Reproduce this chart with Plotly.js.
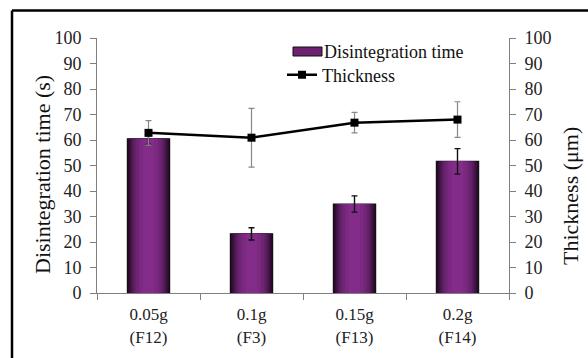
<!DOCTYPE html>
<html>
<head>
<meta charset="utf-8">
<script src="https://cdn.plot.ly/plotly-3.0.1.min.js"></script>
<style>html,body{margin:0;padding:0;background:#fff;}#chart{width:588px;height:358px;}</style>
</head>
<body>
<div id="chart"></div>
<script>
const categories = ['0.05g<br>(F12)', '0.1g<br>(F3)', '0.15g<br>(F13)', '0.2g<br>(F14)'];
const disintegrationTime = [60.5, 23.2, 34.9, 51.6];
const disintegrationErr = [2.2, 2.4, 3.2, 5.0];
const thickness = [62.8, 60.9, 66.8, 68.0];
const thicknessErr = [4.8, 11.5, 4.0, 7.0];
const yTicks = [0, 10, 20, 30, 40, 50, 60, 70, 80, 90, 100];

const font = 'Liberation Serif';
const layers = [
  {w: 0.41, c: '#2a0a2b'},
  {w: 0.37, c: '#3d1240'},
  {w: 0.33, c: '#511a54'},
  {w: 0.29, c: '#632168'},
  {w: 0.24, c: '#712577'},
  {w: 0.18, c: '#7c2982'},
  {w: 0.11, c: '#842c89'}
];
const traces = [];
layers.forEach((L, i) => {
  const last = i === layers.length - 1;
  traces.push({
    type: 'bar', x: categories, y: disintegrationTime, width: L.w,
    name: 'Disintegration time', showlegend: false,
    marker: {color: L.c, line: {color: i === 0 ? '#111' : L.c, width: i === 0 ? 1.2 : 0}},
    error_y: last ? {type: 'data', array: disintegrationErr, visible: true, color: '#111', thickness: 1.4, width: 3} : {visible: false},
    hoverinfo: 'skip'
  });
});
traces.push({
  type: 'scatter', mode: 'lines+markers', x: categories, y: thickness, yaxis: 'y2',
  name: 'Thickness',
  line: {color: '#000', width: 2.5},
  marker: {symbol: 'square', size: 8, color: '#000'},
  error_y: {type: 'data', array: thicknessErr, visible: true, color: '#888', thickness: 1.2, width: 3}
});

const axisCommon = {
  range: [0, 100], tickvals: yTicks, ticktext: yTicks.map(String),
  showgrid: false, zeroline: false, showline: true, linecolor: '#808080', linewidth: 1,
  ticks: 'outside', ticklen: 6, tickcolor: '#808080', ticklabelstandoff: 5,
  tickfont: {family: font, size: 18, color: '#222'}, fixedrange: true
};

// paper coords helpers for plot area l=97, r=509, t=38, b=293
const px = v => (v - 97) / 412;
const py = v => (293 - v) / 255;

const layout = {
  width: 588, height: 358,
  margin: {l: 97, r: 79, t: 38, b: 65, pad: 0},
  paper_bgcolor: '#fff', plot_bgcolor: '#fff',
  barmode: 'overlay',
  font: {family: font, color: '#111'},
  xaxis: {
    type: 'category', showgrid: false, zeroline: false, showline: true,
    linecolor: '#808080', linewidth: 1, ticks: 'outside', ticklen: 6, tickcolor: '#808080',
    tickson: 'boundaries', ticklabelstandoff: 6,
    tickfont: {family: font, size: 17, color: '#222'}, fixedrange: true
  },
  yaxis: Object.assign({}, axisCommon),
  yaxis2: Object.assign({}, axisCommon, {overlaying: 'y', side: 'right'}),
  legend: {
    x: px(282), y: py(75), xanchor: 'left', yanchor: 'middle',
    bgcolor: 'rgba(0,0,0,0)', font: {family: font, size: 18, color: '#111'},
    itemwidth: 30
  },
  annotations: [
    {xref: 'paper', yref: 'paper', x: px(322), y: py(52), xanchor: 'left', yanchor: 'middle',
     text: 'Disintegration time', showarrow: false, font: {family: font, size: 18, color: '#111'}},
    {xref: 'paper', yref: 'paper', x: px(42), y: py(175), xanchor: 'center', yanchor: 'middle', textangle: -90,
     text: 'Disintegration time (s)', showarrow: false, font: {family: font, size: 22, color: '#111'}},
    {xref: 'paper', yref: 'paper', x: px(570), y: py(196), xanchor: 'center', yanchor: 'middle', textangle: -90,
     text: 'Thickness (μm)', showarrow: false, font: {family: font, size: 22, color: '#111'}}
  ],
  shapes: [
    {type: 'rect', xref: 'paper', yref: 'paper', x0: px(293), x1: px(322), y0: py(56), y1: py(47),
     fillcolor: '#6e2170', line: {color: '#111', width: 1}},
    {type: 'line', xref: 'paper', yref: 'paper', x0: px(12), x1: 1.3, y0: py(10.5), y1: py(10.5), line: {color: '#000', width: 2.5}},
    {type: 'line', xref: 'paper', yref: 'paper', x0: px(12), x1: px(12), y0: py(10.5), y1: -0.3, line: {color: '#000', width: 2.5}}
  ]
};

Plotly.newPlot('chart', traces, layout, {displayModeBar: false, staticPlot: true});
</script>
</body>
</html>
